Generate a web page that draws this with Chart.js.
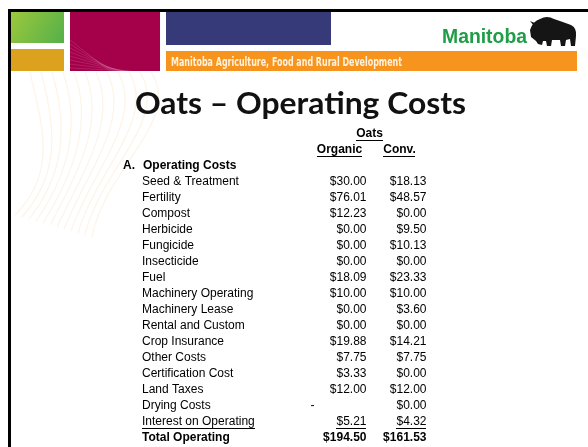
<!DOCTYPE html>
<html><head><meta charset="utf-8">
<script src="https://cdn.jsdelivr.net/npm/chart.js@4.4.1/dist/chart.umd.min.js"></script>
<style>html,body{margin:0;padding:0;background:#fff;overflow:hidden}canvas{display:block}</style>
</head><body>
<canvas id="c" width="588" height="447"></canvas>
<script>
// ---------- data ----------
const slideTitle = 'Oats – Operating Costs';
const bannerText = 'Manitoba Agriculture, Food and Rural Development';
const logoText = 'Manitoba';
const cropLabel = 'Oats';
const columnLabels = ['Organic', 'Conv.'];
const sectionMarker = 'A.';
const sectionLabel = 'Operating Costs';
const rowLabels = [
  'Seed & Treatment', 'Fertility', 'Compost', 'Herbicide', 'Fungicide', 'Insecticide',
  'Fuel', 'Machinery Operating', 'Machinery Lease', 'Rental and Custom', 'Crop Insurance',
  'Other Costs', 'Certification Cost', 'Land Taxes', 'Drying Costs', 'Interest on Operating',
  'Total Operating'
];
const organicValues = [30.00, 76.01, 12.23, 0.00, 0.00, 0.00, 18.09, 10.00, 0.00, 0.00, 19.88, 7.75, 3.33, 12.00, null, 5.21, 194.50];
const convValues    = [18.13, 48.57, 0.00, 9.50, 10.13, 0.00, 23.33, 10.00, 3.60, 0.00, 14.21, 7.75, 0.00, 12.00, 0.00, 4.32, 161.53];
const underlinedRows = ['Interest on Operating'];
const boldRows = ['Total Operating'];
const headerRows = ['__crop', '__columns', '__section'];
const yLabels = headerRows.concat(rowLabels);

// ---------- styles ----------
const tableFont = '"Liberation Sans", Arial, sans-serif';
const labelX = 142, markerX = 123, sectionX = 143;

function toPoints(col, values) {
  return values.map((v, i) => ({ x: col, y: rowLabels[i], v: v }));
}

function fitText(c, str, x, y, width, align) {
  const w = c.measureText(str).width;
  const s = width / w;
  c.save();
  c.translate(x, y);
  c.scale(s, 1);
  c.textAlign = align || 'left';
  c.fillText(str, 0, 0);
  c.restore();
}

const slidePlugin = {
  id: 'slide',
  beforeDraw(chart) {
    const c = chart.ctx;
    c.save();
    c.fillStyle = '#ffffff';
    c.fillRect(0, 0, chart.width, chart.height);

    // faint radiating background lines
    c.strokeStyle = 'rgba(247,160,60,0.12)';
    c.lineWidth = 1.2;
    for (let i = 0; i < 12; i++) {
      c.beginPath();
      const sx = 30 + i * 11;
      c.moveTo(sx, 72);
      c.bezierCurveTo(sx + 10 + i * 2, 120, 60 + i * 4, 170, 15 + i * 7, 215 + i * 2);
      c.stroke();
    }

    // header blocks
    const g = c.createLinearGradient(11, 12, 64, 42);
    g.addColorStop(0, '#9cc83c');
    g.addColorStop(1, '#55b04a');
    c.fillStyle = g;
    c.fillRect(11, 12, 53, 31);
    c.fillStyle = '#dca21e';
    c.fillRect(11, 49, 53, 22);
    c.fillStyle = '#a5004a';
    c.fillRect(70, 12, 90, 59);
    c.strokeStyle = 'rgba(255,255,255,0.12)';
    c.lineWidth = 1;
    for (let i = 0; i < 8; i++) {
      c.beginPath();
      c.moveTo(70, 40 + i * 4);
      c.lineTo(110 + i * 3, 71);
      c.stroke();
    }
    c.fillStyle = '#363a78';
    c.fillRect(166, 12, 165, 33);
    c.fillStyle = '#f7941d';
    c.fillRect(166, 51, 411, 20);

    // banner text
    c.fillStyle = '#fff2dc';
    c.font = 'bold 12px "Liberation Sans Narrow", "DejaVu Sans Condensed", sans-serif';
    c.textBaseline = 'alphabetic';
    fitText(c, bannerText, 171, 66, 231, 'left');

    // logo text
    c.fillStyle = '#1f9d48';
    c.font = 'bold 21px "Liberation Sans", Arial, sans-serif';
    fitText(c, logoText, 442, 43, 85, 'left');

    // bison silhouette (facing left)
    c.fillStyle = '#151515';
    c.beginPath();
    c.moveTo(531, 37);
    c.lineTo(530, 30);
    c.quadraticCurveTo(533, 21, 540, 19);
    c.quadraticCurveTo(547, 15, 554, 19);
    c.quadraticCurveTo(563, 22, 571, 25);
    c.quadraticCurveTo(577, 28, 576, 36);
    c.lineTo(575, 46);
    c.lineTo(571, 46);
    c.lineTo(570, 39);
    c.lineTo(566, 40);
    c.lineTo(565, 46);
    c.lineTo(561, 46);
    c.lineTo(560, 40);
    c.lineTo(552, 40);
    c.lineTo(551, 46);
    c.lineTo(547, 46);
    c.lineTo(546, 41);
    c.lineTo(543, 41);
    c.lineTo(542, 45);
    c.lineTo(538, 44);
    c.lineTo(536, 41);
    c.closePath();
    c.fill();
    c.beginPath();
    c.moveTo(534, 26); c.lineTo(530, 21); c.lineTo(537, 24); c.fill();

    // borders
    c.fillStyle = '#000';
    c.fillRect(8, 9, chart.width - 8, 3);
    c.fillRect(8, 9, 3, chart.height - 9);

    // title
    c.fillStyle = '#111';
    c.font = 'bold 31px Lato, "Open Sans", sans-serif';
    fitText(c, slideTitle, 300.5, 114, 331, 'center');
    c.restore();
  }
};

const tablePlugin = {
  id: 'table',
  afterDatasetsDraw(chart) {
    const c = chart.ctx;
    const xs = chart.scales.x, ys = chart.scales.y;
    const colX = columnLabels.map((l, i) => xs.getPixelForValue(i));
    const half = (colX[1] - colX[0]) / 2;
    const rowY = (label) => ys.getPixelForValue(yLabels.indexOf(label));
    c.save();
    c.fillStyle = '#000';
    c.textBaseline = 'middle';

    function txt(str, x, y, bold, align, underline) {
      c.font = (bold ? 'bold ' : '') + '12px ' + tableFont;
      c.textAlign = align;
      c.fillText(str, x, y);
      if (underline) {
        const w = c.measureText(str).width;
        const x0 = align === 'right' ? x - w : align === 'center' ? x - w / 2 : x;
        c.fillRect(Math.round(x0), Math.round(y + 6), Math.round(w), 1);
      }
    }

    txt(cropLabel, (colX[0] + colX[1]) / 2, rowY('__crop'), true, 'center', true);
    columnLabels.forEach((l, i) => txt(l, colX[i], rowY('__columns'), true, 'center', true));
    txt(sectionMarker, markerX, rowY('__section'), true, 'left', false);
    txt(sectionLabel, sectionX, rowY('__section'), true, 'left', false);

    rowLabels.forEach((l) => {
      txt(l, labelX, rowY(l), boldRows.includes(l), 'left', underlinedRows.includes(l));
    });

    chart.data.datasets.forEach((ds, di) => {
      const meta = chart.getDatasetMeta(di);
      meta.data.forEach((pt, i) => {
        const d = ds.data[i];
        const bold = boldRows.includes(d.y);
        const ul = underlinedRows.includes(d.y);
        if (d.v === null) {
          txt('-', pt.x - half * 0.9, pt.y, bold, 'center', false);
        } else {
          txt('$' + d.v.toFixed(2), pt.x + half * 0.9, pt.y, bold, 'right', ul);
        }
      });
    });
    c.restore();
  }
};

new Chart(document.getElementById('c'), {
  type: 'line',
  data: {
    datasets: [
      { label: columnLabels[0], data: toPoints(columnLabels[0], organicValues), showLine: false, pointRadius: 0, pointHoverRadius: 0 },
      { label: columnLabels[1], data: toPoints(columnLabels[1], convValues), showLine: false, pointRadius: 0, pointHoverRadius: 0 }
    ]
  },
  options: {
    responsive: false,
    animation: false,
    devicePixelRatio: 1,
    events: [],
    layout: { padding: { left: 309.5, right: 158.5, top: 126, bottom: 1 } },
    plugins: { legend: { display: false }, tooltip: { enabled: false } },
    scales: {
      x: { type: 'category', labels: columnLabels, offset: true, display: false },
      y: { type: 'category', labels: yLabels, offset: true, display: false }
    }
  },
  plugins: [slidePlugin, tablePlugin]
});
</script>
</body></html>
